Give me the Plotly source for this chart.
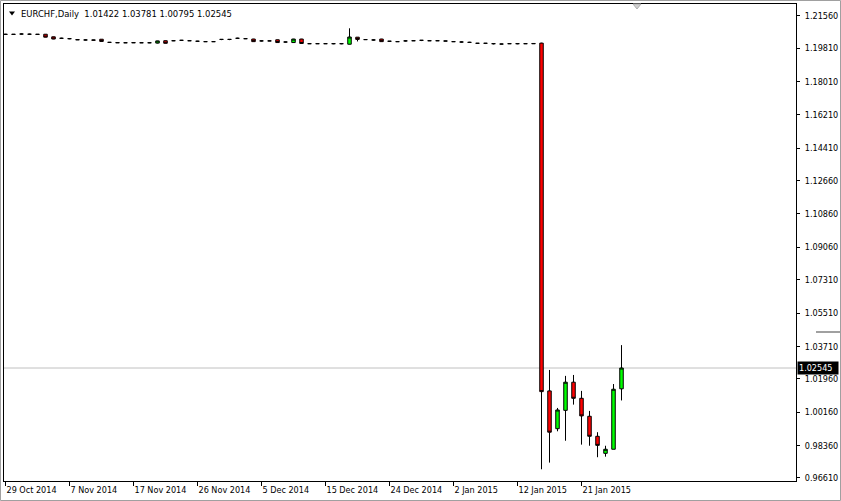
import plotly.graph_objects as go

# ---- data (EURCHF daily, bar index 0 = 29 Oct 2014, last = 27 Jan 2015) ----
opens = [1.2056, 1.2056, 1.2057, 1.2056, 1.2056, 1.2056, 1.2042, 1.2034, 1.2032, 1.2027,
         1.2025, 1.2025, 1.2029, 1.2012, 1.2011, 1.2010, 1.2011, 1.2010, 1.2010, 1.2008,
         1.2021, 1.2021, 1.2023, 1.2021, 1.2018, 1.2016, 1.2016, 1.2028, 1.2028, 1.2034,
         1.2032, 1.2030, 1.2020, 1.2020, 1.2026, 1.2014, 1.2011, 1.2030, 1.2005, 1.2005,
         1.2005, 1.2005, 1.2005, 1.2002, 1.2040, 1.2027, 1.2025, 1.2030, 1.2018, 1.2016,
         1.2020, 1.2021, 1.2023, 1.2021, 1.2021, 1.2020, 1.2016, 1.2014, 1.2012, 1.2007,
         1.2007, 1.2005, 1.2003, 1.2005, 1.2005, 1.2005, 1.2006, 1.2008, 1.0131, 0.9927,
         1.0026, 1.0178, 1.0091, 0.9994, 0.9886, 0.9794, 0.9816, 1.01422]
highs = [1.2058, 1.2057, 1.2060, 1.2059, 1.2056, 1.2057, 1.2043, 1.2037, 1.2035, 1.2029,
         1.2027, 1.2026, 1.2030, 1.2014, 1.2012, 1.2011, 1.2011, 1.2011, 1.2013, 1.2021,
         1.2022, 1.2023, 1.2025, 1.2023, 1.2020, 1.2017, 1.2018, 1.2029, 1.2029, 1.2037,
         1.2034, 1.2031, 1.2022, 1.2021, 1.2027, 1.2015, 1.2031, 1.2031, 1.2006, 1.2006,
         1.2006, 1.2005, 1.2008, 1.2088, 1.2041, 1.2028, 1.2028, 1.2031, 1.2019, 1.2017,
         1.2023, 1.2023, 1.2023, 1.2022, 1.2022, 1.2021, 1.2017, 1.2017, 1.2015, 1.2008,
         1.2007, 1.2005, 1.2004, 1.2006, 1.2005, 1.2006, 1.2007, 1.2010, 1.0244, 1.0039,
         1.0212, 1.0217, 1.0131, 1.0023, 0.9908, 0.9835, 1.0168, 1.03781]
lows = [1.2054, 1.2054, 1.2055, 1.2053, 1.2052, 1.2039, 1.2029, 1.2031, 1.2029, 1.2025,
        1.2023, 1.2023, 1.2016, 1.2011, 1.2009, 1.2009, 1.2009, 1.2010, 1.2008, 1.2006,
        1.2006, 1.2019, 1.2021, 1.2020, 1.2016, 1.2014, 1.2015, 1.2024, 1.2024, 1.2031,
        1.2030, 1.2015, 1.2017, 1.2019, 1.2010, 1.2012, 1.2010, 1.2005, 1.2004, 1.2004,
        1.2005, 1.2002, 1.2002, 1.2001, 1.2017, 1.2025, 1.2022, 1.2015, 1.2016, 1.2014,
        1.2017, 1.2020, 1.2019, 1.2021, 1.2021, 1.2019, 1.2015, 1.2011, 1.2009, 1.2006,
        1.2003, 1.2001, 1.2002, 1.2004, 1.2002, 1.2005, 1.2004, 0.9708, 0.9744, 0.9913,
        0.9862, 1.0057, 0.9841, 0.9835, 0.9773, 0.9776, 0.9816, 1.00795]
closes = [1.2055, 1.2055, 1.2057, 1.2056, 1.2055, 1.2040, 1.2030, 1.2034, 1.2032, 1.2026,
          1.2025, 1.2024, 1.2017, 1.2012, 1.2010, 1.2010, 1.2010, 1.2010, 1.2010, 1.2020,
          1.2007, 1.2021, 1.2023, 1.2021, 1.2018, 1.2016, 1.2016, 1.2028, 1.2028, 1.2034,
          1.2032, 1.2016, 1.2020, 1.2020, 1.2011, 1.2014, 1.2030, 1.2006, 1.2005, 1.2005,
          1.2005, 1.2005, 1.2005, 1.2041, 1.2028, 1.2027, 1.2025, 1.2016, 1.2018, 1.2016,
          1.2020, 1.2021, 1.2023, 1.2021, 1.2021, 1.2019, 1.2016, 1.2014, 1.2012, 1.2007,
          1.2007, 1.2005, 1.2003, 1.2005, 1.2005, 1.2005, 1.2005, 1.0127, 0.9908, 1.0028,
          1.0178, 1.0091, 0.9996, 0.9886, 0.9837, 0.9816, 1.0140, 1.02545]
bar_index = list(range(len(closes)))

date_tick_pos = [0, 8, 16, 24, 32, 40, 48, 56, 64, 72]
date_tick_labels = ["29 Oct 2014", "7 Nov 2014", "17 Nov 2014", "26 Nov 2014", "5 Dec 2014",
                    "15 Dec 2014", "24 Dec 2014", "2 Jan 2015", "12 Jan 2015", "21 Jan 2015"]
price_ticks = [1.21560, 1.19810, 1.18010, 1.16210, 1.14410, 1.12660, 1.10860, 1.09060,
               1.07310, 1.05510, 1.03710, 1.01960, 1.00160, 0.98360, 0.96610]
symbol = "EURCHF,Daily"
last_price = 1.02545

FONT = "DejaVu Sans Condensed, DejaVu Sans, sans-serif"

fig = go.Figure(go.Candlestick(
    x=bar_index, open=opens, high=highs, low=lows, close=closes,
    increasing=dict(line=dict(color="black", width=1), fillcolor="#00FF00"),
    decreasing=dict(line=dict(color="black", width=1), fillcolor="#FF0000"),
    whiskerwidth=0, hoverinfo="skip", showlegend=False,
))

fig.update_layout(
    width=841, height=501,
    margin=dict(l=4, r=45, t=4, b=20, pad=0),
    paper_bgcolor="white", plot_bgcolor="white",
    font=dict(family=FONT, size=9, color="black"),
    boxgap=0.375,
    showlegend=False,
)

fig.update_xaxes(
    range=[-0.1875, 98.8125], tickmode="array", tickvals=date_tick_pos, ticktext=date_tick_labels,
    ticks="outside", ticklen=4, tickcolor="black", tickwidth=1,
    ticklabelposition="outside right",
    showgrid=False, zeroline=False, showline=True, linecolor="black", linewidth=1, mirror=True,
    rangeslider=dict(visible=False), automargin=False,
    tickfont=dict(family=FONT, size=9, color="black"),
)
fig.update_yaxes(
    side="right", range=[0.96447, 1.22191], tickmode="array", tickvals=price_ticks,
    ticktext=[f"{v:.5f}" for v in price_ticks],
    ticks="outside", ticklen=3, tickcolor="black", tickwidth=1, ticklabelstandoff=3,
    showgrid=False, zeroline=False, showline=True, linecolor="black", linewidth=1, mirror=True,
    automargin=False, tickfont=dict(family=FONT, size=9, color="black"),
)

# current price line and label
fig.add_shape(type="line", xref="paper", x0=0, x1=1, yref="y", y0=last_price, y1=last_price,
              line=dict(color="#c0c0c0", width=1), layer="below")
fig.add_annotation(xref="paper", x=1, yref="y", y=last_price, xanchor="left", yanchor="middle",
                   text=f"{last_price:.5f}", showarrow=False, bgcolor="black", width=38, align="left",
                   font=dict(family=FONT, size=9, color="white"), xshift=1, borderpad=1)

# title
ohlc_text = f"{opens[-1]:.5f} {highs[-1]:.5f} {lows[-1]:.5f} {closes[-1]:.5f}"
fig.add_annotation(xref="paper", yref="paper", x=15/792, y=1-9.5/477, xanchor="left", yanchor="middle",
                   text=f"{symbol}  {ohlc_text}", showarrow=False,
                   font=dict(family=FONT, size=9.4, color="black"))
fig.add_shape(type="path", xref="paper", yref="paper",
              path=f"M {5/792} {1-7.5/477} L {11/792} {1-7.5/477} L {8/792} {1-11.5/477} Z",
              fillcolor="black", line=dict(color="black", width=0))

# chart shift marker
fig.add_shape(type="path", xref="paper", yref="paper",
              path=f"M {629/792} {1.0} L {637/792} {1.0} L {633/792} {1-5/477} Z",
              fillcolor="#d0d0d0", line=dict(color="#b0b0b0", width=1))

# ghost line at right
fig.add_shape(type="line", xref="paper", yref="paper", x0=812/792, x1=837/792,
              y0=1-(328/477), y1=1-(328/477), line=dict(color="#a0a0a0", width=2))

# outer window border
fig.add_shape(type="rect", xref="paper", yref="paper", x0=-3.5/792, x1=836.5/792,
              y0=-(19.5/477), y1=1+3.5/477, line=dict(color="#a0a0a0", width=1))

fig.write_html("out.html", config={"displayModeBar": False},
               post_script="document.body.style.margin='0';document.body.style.padding='0';"
                           "document.body.style.overflow='hidden';")
